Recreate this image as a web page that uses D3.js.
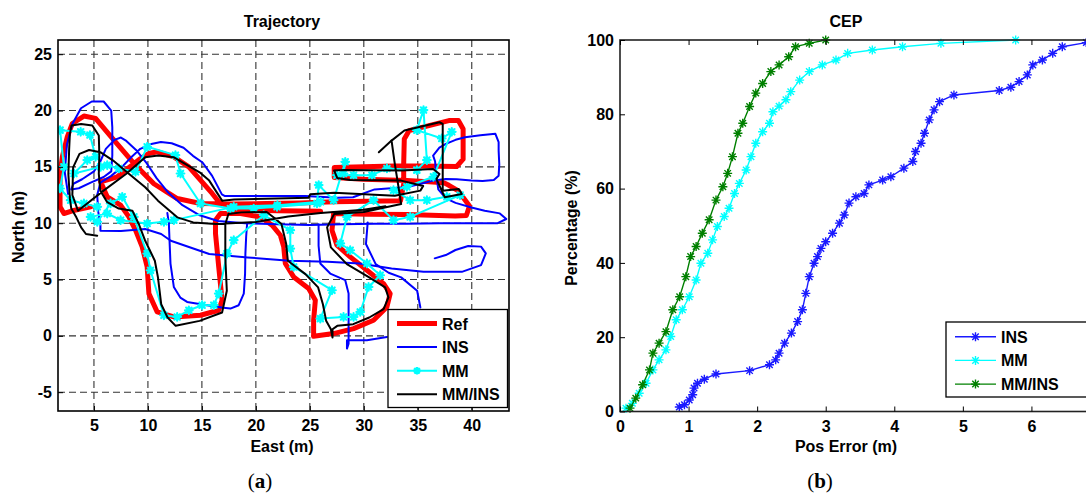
<!DOCTYPE html>
<html>
<head>
<meta charset="utf-8">
<script src="https://cdnjs.cloudflare.com/ajax/libs/d3/7.8.5/d3.min.js"></script>
<style>
  body { margin: 0; background: #fff; }
  text { font-family: "Liberation Sans", Arial, sans-serif; font-weight: bold; fill: #000; }
  .caption { font-family: "Liberation Serif", "DejaVu Serif", serif; font-weight: normal; }
</style>
</head>
<body>
<script>
// ---------- data: trajectory (east, north) in metres ----------
var refTrack = [[4.69,11.45],[3.0,11.1],[2.22,10.86],[1.86,11.45],[1.86,14.41],[2.07,15.89],[2.53,17.67],[3.0,18.85],[4.07,19.51],[5.15,19.3],[6.85,17.37],[8.7,15.3],[10.55,13.5],[12.71,12.19],[14.87,11.75],[18.0,11.7],[21.0,11.75],[24.1,11.8],[27.2,11.9],[30.3,11.95],[33.4,12.0],[33.7,13.5],[33.69,15.09],[33.75,17.47],[34.19,18.21],[37.88,19.11],[38.76,19.11],[39.2,18.36],[39.2,15.68],[38.6,15.03],[33.7,15.09],[27.26,14.94],[27.26,14.05],[30.0,13.9],[34.0,13.8],[37.4,13.6],[37.88,13.36],[38.76,12.86],[39.79,11.52],[39.5,10.68],[38.47,10.63],[34.0,10.77],[30.3,10.8],[27.2,10.86],[27.05,9.38],[27.51,8.05],[28.74,7.01],[30.29,5.82],[31.83,4.64],[32.44,3.75],[32.14,2.57],[30.9,1.38],[29.05,0.64],[27.2,0.2],[25.35,-0.04],[25.35,1.38],[25.51,3.16],[24.89,4.2],[23.5,5.23],[22.73,6.42],[22.58,7.9],[22.27,8.93],[21.5,9.82],[20.42,10.56],[18.57,10.86],[16.72,10.86],[16.26,10.27],[16.26,9.08],[16.56,6.12],[16.87,3.16],[16.56,2.27],[14.87,1.83],[12.4,1.68],[10.86,2.12],[10.09,3.75],[9.93,6.12],[9.47,7.9],[8.85,9.38],[8.24,10.56],[7.47,11.6],[6.23,12.34],[5.62,13.67],[7.16,14.12],[9.32,15.74],[10.09,16.19],[10.86,16.34],[12.4,15.89],[13.79,15.0],[14.87,13.82],[15.95,12.64],[16.56,11.9],[18.0,11.2],[22.0,11.1],[26.0,11.05]];

var insTrack = [[2.6,12.6],[2.3,14.5],[2.5,17.0],[3.0,18.8],[3.8,20.2],[4.8,20.8],[5.9,20.8],[6.6,20.0],[6.7,18.5],[6.7,16.0],[6.6,14.6],[5.9,14.1],[4.7,13.6],[3.6,13.1],[2.9,13.0],[3.1,13.5],[3.9,13.9],[5.0,14.6],[5.6,15.5],[6.1,16.6],[6.9,17.4],[7.5,17.6],[8.0,17.3],[8.9,16.5],[9.9,15.3],[10.8,14.0],[11.9,12.7],[13.2,11.6],[14.8,10.7],[16.5,10.2],[19.0,10.0],[22.0,9.9],[25.0,9.85],[28.0,9.9],[31.0,9.95],[34.0,9.95],[37.0,10.0],[40.0,10.0],[42.4,10.0],[43.2,10.37],[42.6,10.87],[41.2,11.1],[39.97,11.4],[38.5,11.8],[37.6,12.2],[36.9,13.0],[36.72,14.2],[36.6,15.5],[36.42,16.0],[37.0,16.7],[37.6,17.04],[38.5,17.4],[39.38,17.63],[40.8,17.8],[42.19,17.93],[42.49,17.2],[42.49,16.44],[42.55,15.2],[42.49,14.22],[42.04,13.84],[41.0,13.75],[39.97,13.78],[38.6,13.9],[37.6,13.93],[36.5,13.8],[35.3,13.5],[34.0,13.2],[32.5,13.1],[31.0,13.0],[29.0,12.3],[27.56,12.26],[24.58,12.41],[20.0,12.41],[17.14,12.41],[16.85,12.56],[15.95,14.2],[15.06,15.39],[14.17,15.98],[13.3,16.7],[12.2,17.1],[11.2,17.2],[10.2,17.0],[9.3,16.6],[8.5,15.9],[7.6,15.0],[6.6,14.2],[5.6,13.6],[5.3,12.5],[5.4,11.0],[5.6,9.8],[5.6,9.33],[7.5,9.3],[9.75,9.48],[11.23,9.04],[12.12,8.44],[15.68,7.26],[19.24,6.96],[23.1,6.67],[26.66,6.58],[29.62,6.43],[32.57,5.98],[35.53,5.68],[39.08,5.68],[40.86,6.28],[41.3,7.32],[40.86,7.92],[39.67,7.98],[38.49,7.62],[37.6,7.17],[36.57,6.88]];
var insLoop = [[11.8,10.9],[11.94,10.0],[12.0,8.5],[12.09,6.42],[12.4,4.34],[13.0,3.4],[13.63,3.01],[15.48,2.72],[17.0,2.5],[17.64,2.42],[18.41,2.72],[18.88,3.75],[19.0,5.5],[19.03,7.3],[19.1,8.8],[19.19,9.97]];
var insSouth = [[25.81,9.9],[25.81,8.0],[25.97,6.42],[26.89,5.53],[28.28,4.94],[28.59,3.75],[28.59,1.5],[28.59,-0.69],[28.44,-1.13],[28.44,-0.39],[30.29,-0.39],[32.14,-0.1]];
var insEast = [[30.36,10.07],[30.2,8.15],[31.1,6.37],[32.3,5.6],[33.46,5.19],[34.94,4.0],[35.24,2.52]];

var mmTrack = [[5.31,11.45],[4.07,11.75],[2.84,12.04],[1.86,13.08],[2.22,15.0],[1.86,18.26],[3.77,18.11],[4.63,17.82],[5.15,15.89],[4.38,15.6],[3.15,14.41],[5.62,15.0],[6.23,15.15],[7.31,14.86],[8.85,14.56],[9.93,16.78],[12.55,16.04],[13.02,14.41],[14.87,11.75],[17.64,11.3],[19.8,11.3],[21.96,11.45],[25.66,11.75],[25.82,13.38],[27.2,12.04],[28.28,15.45],[28.12,14.41],[27.51,14.26],[29.05,14.26],[30.75,14.26],[32.14,14.86],[34.91,14.71],[35.84,15.6],[35.53,20.04],[34.91,18.26],[37.22,17.52],[38.15,18.11],[36.45,14.12],[33.99,13.23],[32.75,12.93],[34.3,12.04],[35.84,12.04],[37.69,12.34],[38.92,12.49],[34.3,10.56],[32.75,10.27],[30.9,12.04],[28.44,10.56],[27.82,8.2],[28.74,7.6],[30.29,6.42],[31.52,5.38],[30.44,4.34],[29.67,2.12],[29.05,1.68],[28.12,1.68],[25.97,1.53],[27.05,4.05],[23.5,6.12],[23.19,7.75],[23.19,9.38],[20.73,10.71],[17.95,8.49],[17.33,7.3],[16.56,3.75],[16.1,2.72],[15.02,2.72],[13.79,2.27],[12.71,1.68],[11.48,1.83],[10.24,5.82],[9.93,7.3],[8.7,10.56],[7.62,12.34],[6.54,11.75],[5.31,10.12],[4.69,10.56],[6.23,10.86],[7.47,10.27],[9.93,9.97],[11.48,10.12],[12.4,10.27],[17.95,11.45],[22.0,11.6],[26.0,11.9]];

var mmInsTrack = [[5.3,8.89],[4.26,9.04],[3.81,9.63],[3.37,10.52],[2.9,11.3],[2.77,12.2],[2.63,14.37],[2.7,16.5],[2.77,17.93],[2.92,18.67],[3.81,18.81],[4.85,18.67],[5.45,17.78],[5.5,16.0],[5.45,14.37],[5.59,12.89],[6.2,11.9],[7.3,11.3],[8.56,11.11],[9.15,9.93],[9.75,8.44],[10.64,6.67],[10.93,5.19],[11.23,2.81],[11.82,1.63],[12.57,0.89],[14.79,1.33],[16.87,2.07],[17.31,4.0],[17.17,6.96],[17.17,9.93],[17.46,10.81],[18.65,10.96],[21.0,11.0],[21.63,10.52],[22.37,9.93],[22.81,8.15],[22.96,6.67],[24.59,5.48],[25.77,4.3],[26.21,2.81],[26.51,1.33],[26.95,0.59],[27.1,-0.15],[27.1,0.59],[27.54,0.89],[29.02,1.04],[30.5,1.63],[31.83,2.37],[32.28,3.41],[31.98,4.3],[30.5,5.19],[28.43,6.37],[26.95,7.85],[26.6,9.63],[27.25,10.81],[30.0,11.0],[33.46,11.7],[33.17,13.48],[32.87,15.26],[32.57,17.33],[33.76,18.22],[37.01,18.96],[37.31,18.81],[37.31,15.5],[37.31,12.89],[38.79,13.04],[39.08,12.59],[37.5,12.3],[36.72,13.93],[37.01,14.37],[36.42,14.81],[33.46,14.67],[28.14,14.73],[27.25,14.67],[27.54,14.01],[28.73,13.84],[33.46,13.78],[35.5,13.3],[35.24,12.89],[32.87,12.44],[27.26,12.71],[25.03,12.56],[24.88,12.26],[18.0,12.1],[16.87,12.0],[15.68,13.78],[14.79,14.52],[12.42,15.85],[10.93,16.0],[9.75,15.85],[7.97,14.37],[5.89,12.89],[3.52,11.11],[3.0,12.5],[3.07,14.96],[3.66,16.15],[4.55,16.5],[5.59,16.3],[6.78,15.56],[8.26,14.37],[9.75,13.19],[10.93,12.0],[12.72,10.52],[14.2,10.07],[16.28,9.93],[20.0,10.1],[23.0,10.6],[26.0,10.9],[30.0,11.2],[32.0,11.5]];
var mmInsStub = [[31.39,16.3],[32.57,17.33]];

// ---------- data: CEP (error m, percentage) ----------
var cepIns = [[0.865,1.2],[0.94,1.8],[1.01,3.1],[1.06,4.5],[1.08,6.3],[1.13,7.6],[1.23,8.7],[1.40,10.1],[1.89,11.0],[2.18,12.6],[2.27,13.9],[2.32,15.7],[2.40,18.4],[2.50,21.1],[2.59,24.2],[2.66,27.4],[2.71,31.8],[2.76,36.3],[2.83,39.9],[2.88,41.7],[2.93,43.9],[3.0,45.7],[3.1,48.0],[3.2,50.7],[3.27,52.9],[3.34,56.1],[3.44,57.8],[3.56,58.7],[3.63,61.0],[3.83,62.3],[3.95,63.2],[4.14,65.5],[4.27,67.3],[4.31,70.0],[4.39,72.2],[4.44,74.9],[4.51,78.5],[4.58,81.2],[4.66,83.4],[4.87,85.2],[5.53,86.4],[5.70,87.3],[5.82,88.8],[5.94,90.6],[6.02,93.3],[6.16,94.6],[6.31,96.4],[6.45,98.2],[6.8,99.3]];
var cepMm = [[0.087,0.9],[0.18,2.2],[0.28,4.9],[0.38,7.6],[0.48,11.2],[0.57,13.9],[0.67,16.6],[0.74,20.2],[0.82,24.7],[0.91,27.4],[1.01,30.9],[1.11,35.4],[1.18,39.9],[1.28,42.6],[1.35,46.2],[1.42,49.8],[1.52,52.5],[1.59,54.7],[1.67,58.7],[1.74,61.4],[1.84,65.0],[1.91,68.6],[1.98,72.2],[2.08,75.3],[2.18,77.6],[2.23,80.7],[2.32,82.2],[2.42,83.9],[2.49,86.1],[2.62,89.2],[2.76,91.5],[2.95,93.3],[3.15,94.6],[3.32,96.4],[3.68,97.3],[4.12,98.2],[4.68,99.1],[5.77,100]];
var cepMmIns = [[0.146,0.9],[0.23,3.6],[0.33,7.2],[0.43,11.2],[0.48,15.7],[0.57,18.4],[0.67,21.5],[0.77,27.4],[0.87,30.9],[0.96,36.3],[1.03,41.7],[1.11,44.4],[1.2,48.0],[1.3,51.6],[1.4,56.9],[1.5,60.5],[1.57,64.1],[1.64,68.6],[1.72,74.9],[1.79,77.6],[1.89,82.1],[1.98,85.7],[2.08,88.3],[2.2,91.5],[2.32,93.3],[2.46,95.5],[2.56,98.2],[2.76,99.1],[3.0,100]];

// tick labels
var eastTicks = [5, 10, 15, 20, 25, 30, 35, 40];
var northTicks = [-5, 0, 5, 10, 15, 20, 25];
var errTicks = [0, 1, 2, 3, 4, 5, 6];
var pctTicks = [0, 20, 40, 60, 80, 100];
var trajLegend = ["Ref", "INS", "MM", "MM/INS"];
var cepLegend = ["INS", "MM", "MM/INS"];

// ---------- layout ----------
var svgWidth = 1086, svgHeight = 498;
var svg = d3.select("body").append("svg")
  .attr("width", svgWidth)
  .attr("height", svgHeight);

// asterisk marker path
function star(r) {
  var k = r * 0.72;
  return "M" + (-r) + ",0H" + r + "M0," + (-r) + "V" + r +
    "M" + (-k) + "," + (-k) + "L" + k + "," + k + "M" + (-k) + "," + k + "L" + k + "," + (-k);
}
var plain = d => String(d);

// ================= Trajectory =================
var tBox = { left: 58, right: 509, top: 40, bottom: 411 };
var xT = d3.scaleLinear().domain([1.67, 43.45]).range([tBox.left, tBox.right]);
var yT = d3.scaleLinear().domain([-6.67, 26.26]).range([tBox.bottom, tBox.top]);

svg.append("clipPath").attr("id", "clipT").append("rect")
  .attr("x", tBox.left).attr("y", tBox.top)
  .attr("width", tBox.right - tBox.left).attr("height", tBox.bottom - tBox.top);

// grid
var gridT = svg.append("g").attr("stroke", "#333").attr("stroke-width", 1.1).attr("stroke-dasharray", "7,4");
gridT.selectAll(".gx").data(eastTicks).enter().append("line")
  .attr("x1", d => xT(d)).attr("x2", d => xT(d))
  .attr("y1", tBox.top).attr("y2", tBox.bottom);
gridT.selectAll(".gy").data(northTicks).enter().append("line")
  .attr("y1", d => yT(d)).attr("y2", d => yT(d))
  .attr("x1", tBox.left).attr("x2", tBox.right);

var lineT = d3.line().x(d => xT(d[0])).y(d => yT(d[1]));
var plotT = svg.append("g").attr("clip-path", "url(#clipT)").attr("fill", "none")
  .attr("stroke-linejoin", "round").attr("stroke-linecap", "round");

plotT.append("path").datum(refTrack).attr("d", lineT)
  .attr("stroke", "#ff0000").attr("stroke-width", 5);
[insTrack, insLoop, insSouth, insEast].forEach(function (seg) {
  plotT.append("path").datum(seg).attr("d", lineT)
    .attr("stroke", "#0000ff").attr("stroke-width", 2);
});
plotT.append("path").datum(mmTrack).attr("d", lineT)
  .attr("stroke", "#00ffff").attr("stroke-width", 2);
plotT.selectAll(".mmMark").data(mmTrack).enter().append("path")
  .attr("transform", d => `translate(${xT(d[0])},${yT(d[1])})`)
  .attr("d", star(3.8)).attr("stroke", "#00ffff").attr("stroke-width", 2.2);
[mmInsTrack, mmInsStub].forEach(function (seg) {
  plotT.append("path").datum(seg).attr("d", lineT)
    .attr("stroke", "#000").attr("stroke-width", 2);
});

// box and ticks
svg.append("rect").attr("x", tBox.left).attr("y", tBox.top)
  .attr("width", tBox.right - tBox.left).attr("height", tBox.bottom - tBox.top)
  .attr("fill", "none").attr("stroke", "#000").attr("stroke-width", 1.6);
svg.append("g").attr("transform", `translate(0,${tBox.bottom})`)
  .call(d3.axisBottom(xT).tickValues(eastTicks).tickFormat(plain).tickSize(-5).tickPadding(9))
  .call(g => g.select(".domain").remove())
  .call(g => g.selectAll("text").attr("font-size", 16));
svg.append("g").attr("transform", `translate(${tBox.left},0)`)
  .call(d3.axisLeft(yT).tickValues(northTicks).tickFormat(plain).tickSize(-5).tickPadding(6))
  .call(g => g.select(".domain").remove())
  .call(g => g.selectAll("text").attr("font-size", 16));

svg.append("text").attr("x", 282).attr("y", 27).attr("text-anchor", "middle")
  .attr("font-size", 16).text("Trajectory");
svg.append("text").attr("x", 282).attr("y", 452).attr("text-anchor", "middle")
  .attr("font-size", 16).text("East (m)");
svg.append("text").attr("transform", "translate(24,227) rotate(-90)").attr("text-anchor", "middle")
  .attr("font-size", 16).text("North (m)");

// legend
var legT = svg.append("g");
legT.append("rect").attr("x", 388).attr("y", 309.5).attr("width", 119.5).attr("height", 98)
  .attr("fill", "#fff").attr("stroke", "#000").attr("stroke-width", 1.3);
var legTStyle = [
  { c: "#ff0000", w: 5 }, { c: "#0000ff", w: 2 }, { c: "#00ffff", w: 2, m: true }, { c: "#000", w: 2 }
];
trajLegend.forEach(function (name, i) {
  var yy = 323.5 + i * 23.6;
  legT.append("line").attr("x1", 397).attr("x2", 437).attr("y1", yy).attr("y2", yy)
    .attr("stroke", legTStyle[i].c).attr("stroke-width", legTStyle[i].w);
  if (legTStyle[i].m) {
    legT.append("path").attr("transform", `translate(417,${yy})`).attr("d", star(3.8))
      .attr("stroke", legTStyle[i].c).attr("stroke-width", 2.2);
  }
  legT.append("text").attr("x", 442).attr("y", yy + 6).attr("font-size", 16).text(name);
});

svg.append("text").attr("class", "caption").attr("x", 260).attr("y", 488)
  .attr("text-anchor", "middle").attr("font-size", 21)
  .html('(<tspan font-weight="bold">a</tspan>)');

// ================= CEP =================
var cBox = { left: 620, right: 1100, top: 40, bottom: 411.5 };
var xC = d3.scaleLinear().domain([0, 7]).range([cBox.left, cBox.right]);
var yC = d3.scaleLinear().domain([0, 100]).range([cBox.bottom, cBox.top]);

svg.append("clipPath").attr("id", "clipC").append("rect")
  .attr("x", cBox.left).attr("y", cBox.top - 6)
  .attr("width", cBox.right - cBox.left).attr("height", cBox.bottom - cBox.top + 12);

var lineC = d3.line().x(d => xC(d[0])).y(d => yC(d[1]));
var plotC = svg.append("g").attr("clip-path", "url(#clipC)").attr("fill", "none");
var cepSeries = [
  { data: cepIns, c: "#1a1aff" }, { data: cepMm, c: "#00ffff" }, { data: cepMmIns, c: "#008000" }
];
cepSeries.forEach(function (s) {
  plotC.append("path").datum(s.data).attr("d", lineC)
    .attr("stroke", s.c).attr("stroke-width", 1.4);
  plotC.selectAll(null).data(s.data).enter().append("path")
    .attr("transform", d => `translate(${xC(d[0])},${yC(d[1])})`)
    .attr("d", star(4.5)).attr("stroke", s.c).attr("stroke-width", 1.4);
});

svg.append("rect").attr("x", cBox.left).attr("y", cBox.top)
  .attr("width", cBox.right - cBox.left).attr("height", cBox.bottom - cBox.top)
  .attr("fill", "none").attr("stroke", "#222").attr("stroke-width", 1.6);
svg.append("g").attr("transform", `translate(0,${cBox.bottom})`)
  .call(d3.axisBottom(xC).tickValues(errTicks).tickFormat(plain).tickSize(-5).tickPadding(9))
  .call(g => g.select(".domain").remove())
  .call(g => g.selectAll("text").attr("font-size", 16));
svg.append("g").attr("transform", `translate(0,${cBox.top})`)
  .call(d3.axisTop(xC).tickValues(errTicks).tickSize(-5).tickFormat(""))
  .call(g => g.select(".domain").remove());
svg.append("g").attr("transform", `translate(${cBox.left},0)`)
  .call(d3.axisLeft(yC).tickValues(pctTicks).tickFormat(plain).tickSize(-5).tickPadding(6))
  .call(g => g.select(".domain").remove())
  .call(g => g.selectAll("text").attr("font-size", 16));

svg.append("text").attr("x", 846).attr("y", 27).attr("text-anchor", "middle")
  .attr("font-size", 16).text("CEP");
svg.append("text").attr("x", 846).attr("y", 452).attr("text-anchor", "middle")
  .attr("font-size", 16).text("Pos Error (m)");
svg.append("text").attr("transform", "translate(577,228) rotate(-90)").attr("text-anchor", "middle")
  .attr("font-size", 16).text("Percentage (%)");

var legC = svg.append("g");
legC.append("rect").attr("x", 946).attr("y", 322).attr("width", 160).attr("height", 75)
  .attr("fill", "#fff").attr("stroke", "#000").attr("stroke-width", 1.3);
cepLegend.forEach(function (name, i) {
  var yy = 336.7 + i * 23.7;
  legC.append("line").attr("x1", 955).attr("x2", 996).attr("y1", yy).attr("y2", yy)
    .attr("stroke", cepSeries[i].c).attr("stroke-width", 1.4);
  legC.append("path").attr("transform", `translate(975.5,${yy})`).attr("d", star(4.5))
    .attr("fill", "none").attr("stroke", cepSeries[i].c).attr("stroke-width", 1.4);
  legC.append("text").attr("x", 1001).attr("y", yy + 6).attr("font-size", 16).text(name);
});

svg.append("text").attr("class", "caption").attr("x", 820).attr("y", 488)
  .attr("text-anchor", "middle").attr("font-size", 21)
  .html('(<tspan font-weight="bold">b</tspan>)');
</script>
</body>
</html>
